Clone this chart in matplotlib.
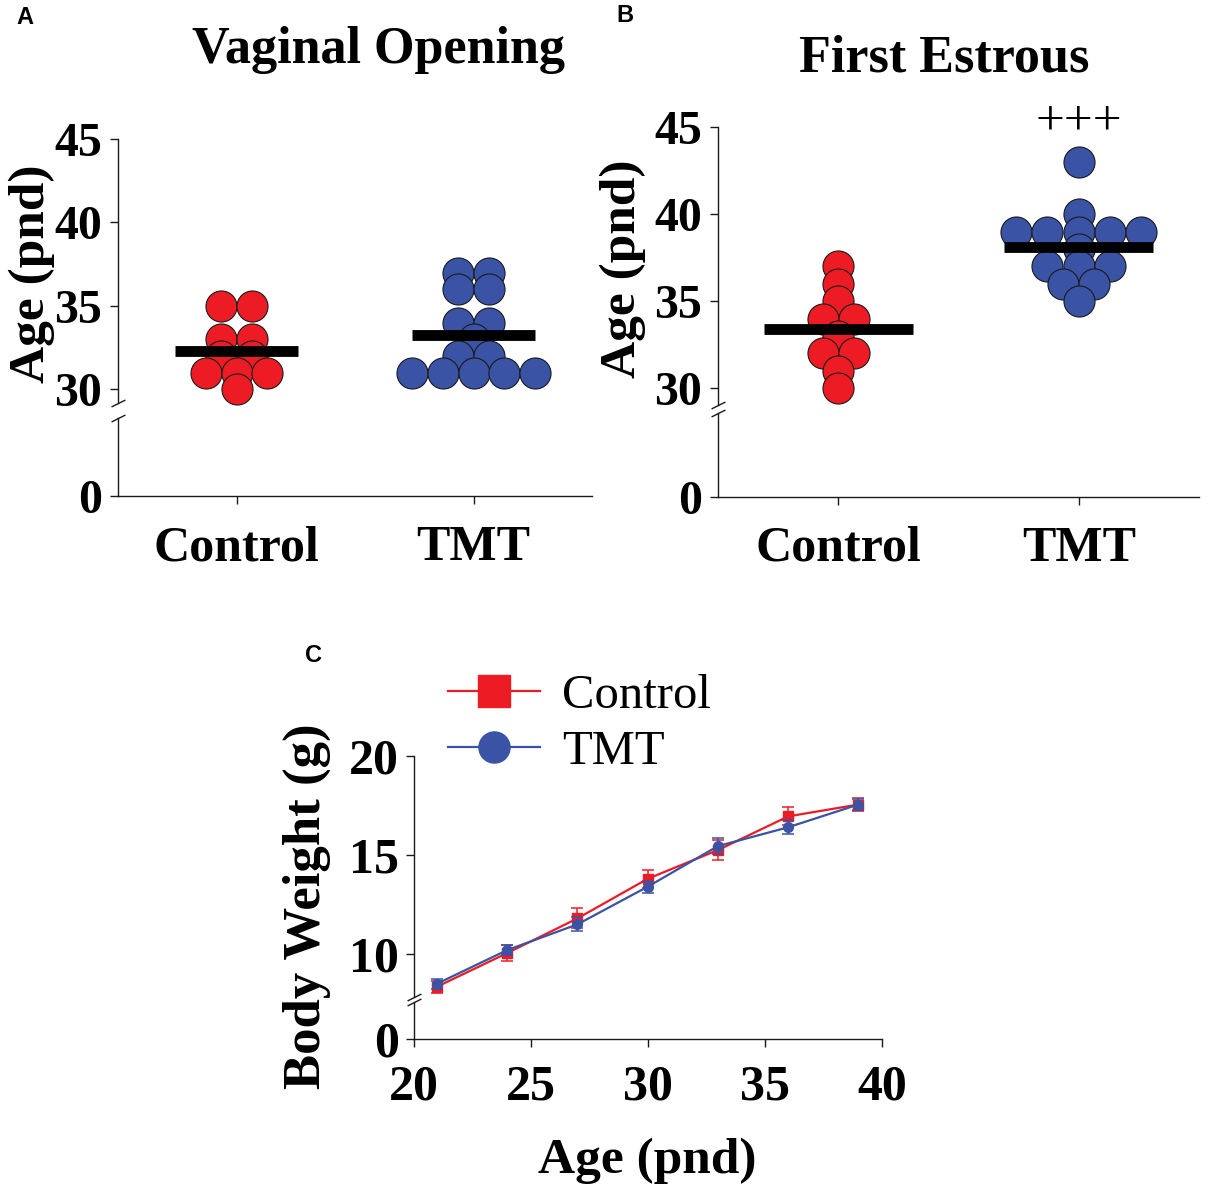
import numpy as np
import matplotlib
matplotlib.use('Agg')
import matplotlib.pyplot as plt
from collections import Counter

plt.rcParams['font.family'] = ['Liberation Serif', 'DejaVu Serif']

# --- data ---
groups = ['Control', 'TMT']
vo_control = [35, 35, 33, 33, 32, 32, 31, 31, 31, 30]
vo_tmt = [37, 37, 36, 36, 34, 34, 33, 32, 32, 31, 31, 31, 31, 31]
fe_control = [37, 36, 35, 34, 34, 33, 32, 32, 31, 30]
fe_tmt = [43, 40, 39, 39, 39, 39, 39, 38, 37, 37, 37, 36, 36, 35]

ages = [21, 24, 27, 30, 33, 36, 39]
bw_control = [8.35, 10.05, 11.8, 13.8, 15.25, 16.95, 17.55]
bw_control_sem = [0.30, 0.40, 0.50, 0.45, 0.50, 0.45, 0.35]
bw_tmt = [8.5, 10.2, 11.5, 13.4, 15.45, 16.4, 17.55]
bw_tmt_sem = [0.25, 0.25, 0.35, 0.30, 0.40, 0.35, 0.30]

RED = '#ED1C24'
BLUE = '#3A53A4'
INK = '#1a1a1a'
W, H = 1214, 1185

fig = plt.figure(figsize=(W / 100, H / 100), dpi=100)


def px_axes(left, top, right, bottom):
    return fig.add_axes([left / W, 1 - bottom / H, (right - left) / W, (bottom - top) / H])


def style(ax, bottom=False):
    for s in ['top', 'right']:
        ax.spines[s].set_visible(False)
    ax.spines['bottom'].set_visible(bottom)
    for s in ['left', 'bottom']:
        ax.spines[s].set_linewidth(1.0)
        ax.spines[s].set_color(INK)
    ax.tick_params(direction='out', length=5.5, width=1, color=INK, pad=6)
    if not bottom:
        ax.set_xticks([])
    ax.patch.set_alpha(0)


def break_mark(ax, y):
    ax.plot([0], [y], transform=ax.transAxes, marker=[(-1, -0.5), (1, 0.5)],
            ms=10, mew=1, color=INK, clip_on=False)


def swarm(ax, values, xpos, color, slot=0.13):
    counts = Counter(values)
    xs, ys = [], []
    for v, n in counts.items():
        for i in range(n):
            xs.append(xpos + (i - (n - 1) / 2) * slot)
            ys.append(v)
    ax.scatter(xs, ys, s=500, c=color, edgecolors=INK, linewidths=0.8,
               zorder=3, clip_on=False)


def dot_panel(top_box, low_box, ymin, data, bar_half, title, title_xy):
    ax_up = px_axes(*top_box)
    ax_lo = px_axes(*low_box)
    for ax in (ax_up, ax_lo):
        ax.set_xlim(-0.5, 1.5)
    style(ax_up)
    style(ax_lo, bottom=True)
    ax_up.set_ylim(ymin, 45)
    ax_up.set_yticks([30, 35, 40, 45])
    ax_lo.set_ylim(0, 1)
    ax_lo.set_yticks([0])
    ax_lo.set_xticks([0, 1])
    ax_lo.set_xticklabels(groups)
    for lab in ax_up.get_yticklabels() + ax_lo.get_yticklabels():
        lab.set_fontsize(34.5)
        lab.set_fontweight('bold')
    for lab in ax_lo.get_xticklabels():
        lab.set_fontsize(36)
        lab.set_fontweight('bold')
    ax_lo.tick_params(axis='x', pad=15, length=6)
    for i, (vals, col) in enumerate(zip(data, [RED, BLUE])):
        swarm(ax_up, vals, i, col)
        m = np.mean(vals)
        ax_up.plot([i - bar_half, i + bar_half], [m, m], color='black', lw=7.8,
                   solid_capstyle='butt', zorder=4, clip_on=False)
    ax_up.set_ylabel('Age (pnd)', fontsize=37, fontweight='bold')
    break_mark(ax_up, 0)
    break_mark(ax_lo, 1)
    fig.text(title_xy[0] / W, 1 - title_xy[1] / H, title, ha='center', va='baseline',
             fontsize=37.5, fontweight='bold')
    return ax_up, ax_lo


# Panel A
a_up, a_lo = dot_panel((118, 139, 592, 403), (118, 418, 592, 496), 29.19,
                       [vo_control, vo_tmt], 0.26, 'Vaginal Opening', (378, 63))
a_up.yaxis.set_label_coords(-0.133, 0.49)

# Panel B
b_up, b_lo = dot_panel((718, 127.3, 1199, 405), (718, 413, 1199, 496.7), 29.04,
                       [fe_control, fe_tmt], 0.31, 'First Estrous', (944, 72))
b_up.yaxis.set_label_coords(-0.15, 0.49)
b_up.text(1, 45.3, '+++', ha='center', va='center', fontsize=37, clip_on=False)

# Panel C
c_up = px_axes(413.6, 756, 881.8, 997)
c_lo = px_axes(413.6, 1002, 881.8, 1039)
for ax in (c_up, c_lo):
    ax.set_xlim(20, 40)
style(c_up)
style(c_lo, bottom=True)
c_up.set_ylim(7.83, 20)
c_up.set_yticks([10, 15, 20])
c_lo.set_ylim(0, 1)
c_lo.set_yticks([0])
c_lo.set_xticks([20, 25, 30, 35, 40])
for lab in c_up.get_yticklabels() + c_lo.get_yticklabels() + c_lo.get_xticklabels():
    lab.set_fontsize(36)
    lab.set_fontweight('bold')
c_lo.tick_params(axis='x', pad=12, length=6)
c_lo.tick_params(axis='y', pad=5)
c_up.tick_params(axis='y', pad=5)

eb_c = c_up.errorbar(ages, bw_control, yerr=bw_control_sem, color=RED, marker='s', ms=7,
                     lw=1.6, elinewidth=1.1, capsize=4.5, capthick=1.1, label='Control', zorder=3)
eb_t = c_up.errorbar(ages, bw_tmt, yerr=bw_tmt_sem, color=BLUE, marker='o', ms=7,
                     lw=1.6, elinewidth=1.1, capsize=4.5, capthick=1.1, label='TMT', zorder=4)
c_up.set_ylabel('Body Weight (g)', fontsize=38, fontweight='bold')
c_up.yaxis.set_label_coords(-0.176, 0.375)
c_lo.set_xlabel('Age (pnd)', fontsize=37, fontweight='bold', labelpad=20)
break_mark(c_up, 0)
break_mark(c_lo, 1)

c_up.legend(handles=[eb_c.lines[0], eb_t.lines[0]], labels=['Control', 'TMT'],
            loc='upper left', bbox_to_anchor=(0.0735, 1.34), frameon=False,
            borderpad=0, borderaxespad=0, handlelength=1.9, handletextpad=0.45,
            labelspacing=0.25, markerscale=3.2, prop={'size': 35})

# panel letters
for letter, (x, y) in zip('ABC', [(25, 18), (625, 15), (313, 656)]):
    fig.text(x / W, 1 - y / H, letter, ha='center', va='center', fontsize=17,
             fontweight='bold', family='Liberation Sans')

fig.savefig('out.png', dpi=100)
